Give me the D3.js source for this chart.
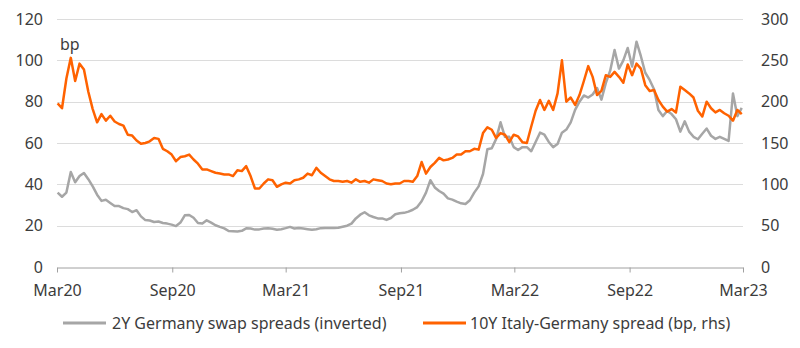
<!DOCTYPE html>
<html>
<head>
<meta charset="utf-8">
<script src="https://cdn.jsdelivr.net/npm/d3@7"></script>
<style>
  html, body { margin: 0; padding: 0; background: #fff; }
  svg { display: block; font-family: "Noto Sans", sans-serif; }
</style>
</head>
<body>
<svg id="chart" width="800" height="348"></svg>
<script>
// ---- Data (weekly observations, Mondays from 2 Mar 2020) ----
const firstWeek = "2020-03-02";
const lastWeek = "2023-02-27";

// 2Y Germany swap spreads (inverted), left axis, bp
const swapSpread = [
  36, 34, 36, 46, 41, 44, 45.5, 42.5, 39, 35,
  32, 32.5, 31, 29.5, 29.5, 28.5, 28, 26.6, 27.5, 24.5,
  22.7, 22.5, 21.8, 22, 21.3, 21, 20.5, 19.8, 21.5, 25,
  25.2, 23.8, 21.3, 21, 22.6, 21.5, 20.2, 19.4, 18.7, 17.4,
  17.3, 17.2, 17.5, 18.7, 18.6, 18.1, 18.2, 18.6, 18.8, 18.5,
  18.0, 18.3, 18.8, 19.4, 18.6, 18.9, 18.6, 18.3, 18, 18.3,
  18.8, 18.9, 18.9, 18.9, 19, 19.5, 20, 21, 23.5, 25.3,
  26.5, 25, 24.2, 23.5, 23.5, 22.8, 23.7, 25.5, 26, 26.2,
  26.8, 27.7, 29, 31.8, 36, 42, 38.5, 36.8, 35.5, 33.2,
  32.6, 31.6, 30.8, 30.5, 32.3, 36, 39, 45, 57, 57.5,
  62, 70, 63, 63, 58, 56.6, 58, 58, 56, 60.5,
  65, 64, 60.5, 58, 59.5, 65, 66.5, 70, 76, 80,
  83, 82, 83.5, 86.6, 81, 89, 95, 105, 96, 100,
  106, 97, 109, 102, 94, 90.5, 86, 76, 73, 75.5,
  74, 71.5, 65.5, 70.5, 65.5, 63, 61.8, 64.5, 67, 63.5,
  62, 63, 62, 61, 84, 73, 77
];

// 10Y Italy-Germany spread, right axis, bp
const btpBund = [
  198, 192, 228, 253, 225, 246, 239, 212, 191, 175,
  185, 177, 183, 176, 173, 171, 160, 159, 153, 149,
  150, 152, 156, 155, 143, 140, 136, 128, 133, 134,
  136, 130, 125, 118, 118, 116, 114, 113, 112, 112,
  110, 117, 116, 122, 110, 95, 95, 101, 106, 105,
  97, 100, 102, 101, 105, 106, 108, 113, 111, 120,
  114, 110, 106, 104, 104, 103, 104, 102, 106, 103,
  104, 102, 106, 105, 104, 101, 100, 101, 101, 104,
  104, 103, 110, 127, 113, 121, 126, 132, 129, 130,
  132, 136, 136, 140, 140, 143, 142, 162, 169, 166,
  156, 162, 160, 151, 160, 158, 151, 150, 170, 189,
  202, 190, 201, 190, 210, 250, 200, 205, 196, 208,
  225, 243, 230, 208, 213, 232, 230, 236, 230, 223,
  245, 232, 246, 240, 220, 213, 214, 202, 194, 188,
  191, 187, 218, 214, 210, 205, 189, 182, 200, 192,
  187, 190, 186, 183, 177, 190, 185
];

const xTickDates = ["2020-03-01", "2020-09-01", "2021-03-01", "2021-09-01", "2022-03-01", "2022-09-01", "2023-03-01"];
const xTickLabels = ["Mar20", "Sep20", "Mar21", "Sep21", "Mar22", "Sep22", "Mar23"];
const leftTicks = [0, 20, 40, 60, 80, 100, 120];
const rightTicks = [0, 50, 100, 150, 200, 250, 300];
const seriesNames = ["2Y Germany swap spreads (inverted)", "10Y Italy-Germany spread (bp, rhs)"];
const seriesColors = ["#A6A6A6", "#FF6200"];

// ---- Chart ----
const svg = d3.select("#chart");
const margin = { left: 57, right: 57, top: 19, bottom: 81 };
const W = 800, H = 348;
const parse = d3.utcParse("%Y-%m-%d");

const weeks = d3.utcMonday.range(parse(firstWeek), d3.utcDay.offset(parse(lastWeek), 1));

const x = d3.scaleUtc()
  .domain([parse(xTickDates[0]), parse(xTickDates[xTickDates.length - 1])])
  .range([margin.left, W - margin.right]);
const yL = d3.scaleLinear().domain([0, 120]).range([H - margin.bottom, margin.top]);
const yR = d3.scaleLinear().domain([0, 300]).range([H - margin.bottom, margin.top]);

const textColor = "#3c3c3c";

// gridlines
svg.append("g")
  .selectAll("line")
  .data(leftTicks.filter(d => d > 0))
  .join("line")
  .attr("x1", x.range()[0]).attr("x2", x.range()[1])
  .attr("y1", d => Math.round(yL(d)) + 0.5).attr("y2", d => Math.round(yL(d)) + 0.5)
  .attr("stroke", "#dcdcdc").attr("stroke-width", 1);

// left axis labels
const leftAxis = d3.axisLeft(yL).tickValues(leftTicks).tickSize(0).tickPadding(14);
const gL = svg.append("g").attr("transform", `translate(${margin.left},0)`).call(leftAxis);
gL.select(".domain").remove();
gL.selectAll("text").attr("fill", textColor).style("font-size", "16px").style("font-family", "Noto Sans");

// right axis labels
const rightAxis = d3.axisRight(yR).tickValues(rightTicks).tickSize(0).tickPadding(18);
const gR = svg.append("g").attr("transform", `translate(${W - margin.right},0)`).call(rightAxis);
gR.select(".domain").remove();
gR.selectAll("text").attr("fill", textColor).style("font-size", "16px").style("font-family", "Noto Sans");

// x axis
const xAxis = d3.axisBottom(x)
  .tickValues(xTickDates.map(parse))
  .tickFormat((d, i) => xTickLabels[i])
  .tickSizeInner(5).tickSizeOuter(0).tickPadding(12);
const gX = svg.append("g").attr("transform", `translate(0,${Math.round(yL(0)) + 0.5})`).call(xAxis);
gX.select(".domain").attr("stroke", "#a0a0a0");
gX.selectAll(".tick line").attr("stroke", "#a0a0a0");
gX.selectAll("text").attr("fill", textColor).style("font-size", "16px").style("font-family", "Noto Sans");

// lines
const lineL = d3.line().x((d, i) => x(weeks[i])).y(d => yL(d));
const lineR = d3.line().x((d, i) => x(weeks[i])).y(d => yR(d));

svg.append("path").datum(swapSpread)
  .attr("d", lineL).attr("fill", "none")
  .attr("stroke", seriesColors[0]).attr("stroke-width", 2.5).attr("stroke-linejoin", "round");
svg.append("path").datum(btpBund)
  .attr("d", lineR).attr("fill", "none")
  .attr("stroke", seriesColors[1]).attr("stroke-width", 2.5).attr("stroke-linejoin", "round");

// bp label
svg.append("text").attr("x", 60).attr("y", 50).text("bp")
  .attr("fill", textColor).style("font-size", "16px");

// legend
const legendItems = [
  { x1: 63, x2: 106, tx: 112 },
  { x1: 423, x2: 466, tx: 470 }
];
const lg = svg.append("g");
legendItems.forEach((it, i) => {
  lg.append("line").attr("x1", it.x1).attr("x2", it.x2).attr("y1", 323).attr("y2", 323)
    .attr("stroke", seriesColors[i]).attr("stroke-width", 3);
  lg.append("text").attr("x", it.tx).attr("y", 323).attr("dy", "0.35em")
    .text(seriesNames[i]).attr("fill", textColor).style("font-size", "16px");
});
</script>
</body>
</html>
